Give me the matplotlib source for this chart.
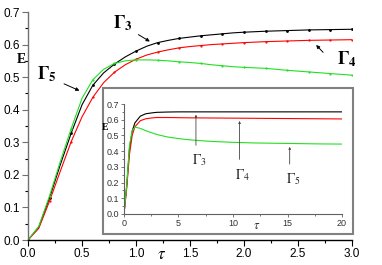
import numpy as np
import matplotlib
matplotlib.use("Agg")
import matplotlib.pyplot as plt
from matplotlib.ticker import MultipleLocator, FormatStrFormatter
from matplotlib.patches import Rectangle

# ---- main panel data (tau 0..3) ----
tau = [0.0, 0.1, 0.2, 0.3, 0.4, 0.5, 0.6, 0.7, 0.8, 0.9, 1.0, 1.1, 1.2, 1.3, 1.4,
       1.5, 1.6, 1.7, 1.8, 1.9, 2.0, 2.2, 2.4, 2.6, 2.8, 3.0]
E_g3 = [0.000, 0.040, 0.130, 0.232, 0.328, 0.415, 0.475, 0.513, 0.540, 0.562, 0.580,
        0.595, 0.606, 0.613, 0.619, 0.623, 0.627, 0.630, 0.633, 0.636, 0.638,
        0.641, 0.643, 0.645, 0.646, 0.647]
E_g4 = [0.000, 0.036, 0.120, 0.212, 0.302, 0.378, 0.438, 0.483, 0.515, 0.538, 0.555,
        0.568, 0.577, 0.584, 0.590, 0.594, 0.597, 0.600, 0.602, 0.604, 0.606,
        0.609, 0.611, 0.613, 0.614, 0.615]
E_g5 = [0.000, 0.042, 0.136, 0.242, 0.342, 0.435, 0.492, 0.524, 0.542, 0.550, 0.553,
        0.553, 0.552, 0.550, 0.547, 0.545, 0.542, 0.538, 0.535, 0.532, 0.530,
        0.527, 0.521, 0.516, 0.511, 0.506]

# ---- inset data (tau 0..20) ----
tau_l = [0, 0.25, 0.5, 0.75, 1, 1.5, 2, 2.5, 3, 4, 5, 6, 8, 10, 12, 14, 16, 18, 20]
E_l3 = [0, 0.180, 0.415, 0.527, 0.580, 0.623, 0.638, 0.643, 0.647, 0.649, 0.650,
        0.650, 0.650, 0.650, 0.650, 0.650, 0.650, 0.650, 0.650]
E_l4 = [0, 0.165, 0.378, 0.500, 0.555, 0.594, 0.606, 0.611, 0.614, 0.614, 0.613,
        0.612, 0.611, 0.610, 0.609, 0.608, 0.607, 0.606, 0.605]
E_l5 = [0, 0.185, 0.435, 0.530, 0.553, 0.545, 0.530, 0.518, 0.506, 0.490, 0.480,
        0.472, 0.462, 0.456, 0.452, 0.450, 0.448, 0.446, 0.445]

labels = ["3", "4", "5"]
colors = ["black", "#ff0000", "#22e022"]

plt.rcParams['font.family'] = ['Liberation Sans', 'DejaVu Sans']
plt.rcParams['mathtext.fontset'] = 'stix'
serif = ['Liberation Serif', 'DejaVu Serif']

fig = plt.figure(figsize=(3.82, 2.65), dpi=100)
ax = fig.add_axes([0.0733, 0.0943, 0.8482, 0.8604])

marks = [i for i, t in enumerate(tau) if abs(t * 5 - round(t * 5)) < 1e-6]
for E, c, ms in zip([E_g3, E_g4, E_g5], colors, [1.0, 0.6, 0.6]):
    ax.plot(tau, E, color=c, lw=0.8, marker='o', ms=ms, markevery=marks)

ax.set_xlim(0, 3)
ax.set_ylim(0, 0.7)
ax.xaxis.set_major_locator(MultipleLocator(0.5))
ax.xaxis.set_minor_locator(MultipleLocator(0.25))
ax.yaxis.set_major_locator(MultipleLocator(0.1))
ax.yaxis.set_minor_locator(MultipleLocator(0.05))
ax.xaxis.set_major_formatter(FormatStrFormatter('%.1f'))
ax.yaxis.set_major_formatter(FormatStrFormatter('%.1f'))
for s in ['top', 'right']:
    ax.spines[s].set_visible(False)
ax.spines['left'].set_color('#707070')
ax.spines['left'].set_linewidth(1.0)
ax.spines['bottom'].set_linewidth(1.0)
ax.tick_params(which='major', direction='out', length=4, width=0.8, labelsize=8.5, pad=1.5)
ax.tick_params(which='minor', direction='out', length=2.5, width=0.8)
ax.tick_params(axis='y', colors='#707070', labelcolor='black')

ax.text(-0.06, 0.553, 'E', fontsize=10, fontweight='bold',
        family=serif, ha='center', va='center')
ax.text(1.24, -0.045, r'$\tau$', fontsize=12, ha='center', va='center')

# main annotations
ax.annotate('', xy=(1.15, 0.605), xytext=(1.0, 0.635),
            arrowprops=dict(arrowstyle='-|>', color='black', lw=0.7, mutation_scale=5))
ax.text(0.88, 0.665, r'$\mathbf{\Gamma_3}$', fontsize=13, ha='center', va='center')
ax.annotate('', xy=(2.65, 0.605), xytext=(2.75, 0.570),
            arrowprops=dict(arrowstyle='-|>', color='black', lw=0.7, mutation_scale=5))
ax.text(2.95, 0.555, r'$\mathbf{\Gamma_4}$', fontsize=13, ha='center', va='center')
ax.annotate('', xy=(0.5, 0.455), xytext=(0.31, 0.483),
            arrowprops=dict(arrowstyle='-|>', color='black', lw=0.7, mutation_scale=5))
ax.text(0.17, 0.51, r'$\mathbf{\Gamma_5}$', fontsize=13, ha='center', va='center')

# inset frame
fig.patches.append(Rectangle((0.2696, 0.117), 0.6545, 0.551, transform=fig.transFigure,
                             facecolor='white', edgecolor='#808080', lw=1.5, zorder=2))

ins = fig.add_axes([0.3246, 0.1925, 0.5707, 0.415], zorder=3)
ins.patch.set_alpha(0)
for E, c in zip([E_l3, E_l4, E_l5], colors):
    ins.plot(tau_l, E, color=c, lw=0.8)
ins.set_xlim(0, 20)
ins.set_ylim(0, 0.7)
ins.xaxis.set_major_locator(MultipleLocator(5))
ins.xaxis.set_minor_locator(MultipleLocator(2.5))
ins.yaxis.set_major_locator(MultipleLocator(0.1))
ins.yaxis.set_minor_locator(MultipleLocator(0.05))
ins.yaxis.set_major_formatter(FormatStrFormatter('%.1f'))
for s in ['top', 'right']:
    ins.spines[s].set_visible(False)
for s in ['left', 'bottom']:
    ins.spines[s].set_color('#606060')
    ins.spines[s].set_linewidth(0.8)
ins.tick_params(which='major', direction='out', length=2.5, width=0.6, labelsize=6.5,
                pad=1, colors='#606060', labelcolor='#333333')
ins.tick_params(which='minor', direction='out', length=1.5, width=0.6, colors='#606060')
ins.text(-1.7, 0.548, 'E', fontsize=7, fontweight='bold', family=serif,
         ha='center', va='center')
ins.text(12.2, -0.075, r'$\tau$', fontsize=9, ha='center', va='center', color='#333333')

# inset annotations
for x, ytip, ybase, lab in [(6.6, 0.65, 0.42, '3'), (10.6, 0.61, 0.33, '4'),
                            (15.2, 0.445, 0.30, '5')]:
    ins.annotate('', xy=(x, ytip), xytext=(x, ybase),
                 arrowprops=dict(arrowstyle='-|>', color='#444444', lw=0.6, mutation_scale=3))
    ins.text(x + 0.3, ybase - 0.08, r'$\Gamma_{%s}$' % lab, fontsize=10,
             ha='center', va='center', color='#222222')

fig.savefig('out.png', dpi=100)
